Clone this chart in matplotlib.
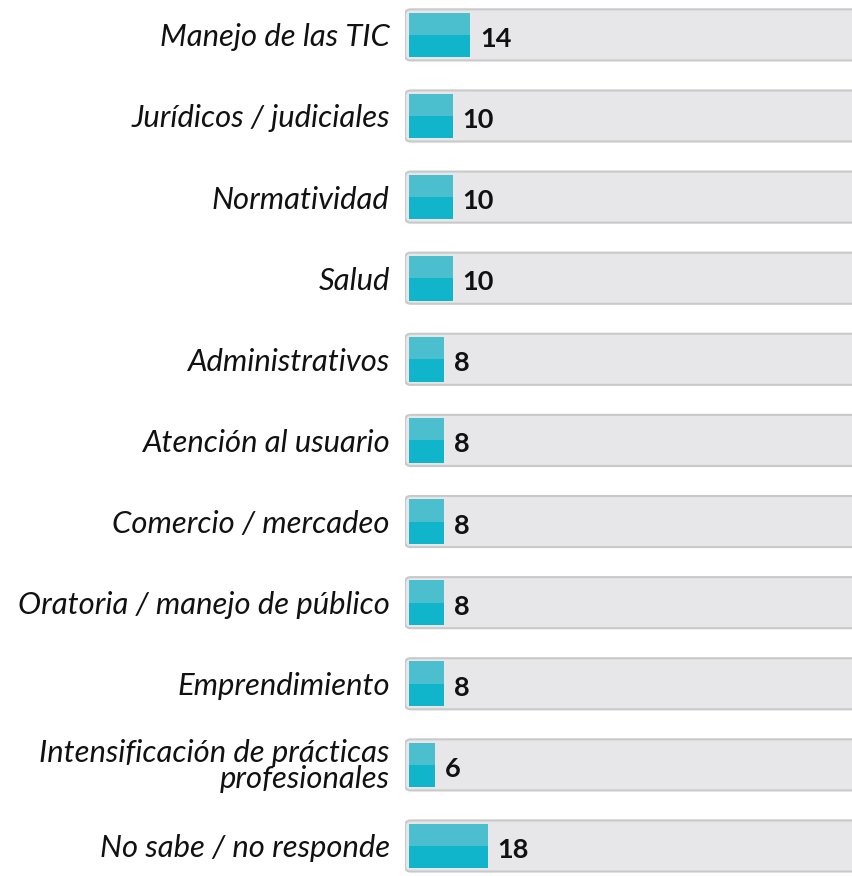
import numpy as np
import matplotlib.pyplot as plt
from matplotlib.patches import FancyBboxPatch

categorias = ['Manejo de las TIC', 'Jurídicos / judiciales', 'Normatividad', 'Salud',
              'Administrativos', 'Atención al usuario', 'Comercio / mercadeo',
              'Oratoria / manejo de público', 'Emprendimiento',
              'Intensificación de prácticas\nprofesionales', 'No sabe / no responde']
valores = [14, 10, 10, 10, 8, 8, 8, 8, 8, 6, 18]
total = 100

plt.rcParams['font.family'] = ['Lato', 'DejaVu Sans']

fig = plt.figure(figsize=(8.52, 8.76), dpi=100)
ax = fig.add_axes([405 / 852, 0, 447 / 852, 1])

y = np.arange(len(categorias))
h = 0.63
px_x = 4.35   # pixeles por unidad en x
px_y = 81.1   # pixeles por unidad en y

# fondo gris redondeado
for yi in y:
    fondo = FancyBboxPatch((-1, yi - h / 2), total + 10, h,
                           boxstyle='round,pad=0,rounding_size=1.3',
                           mutation_aspect=px_x / px_y,
                           facecolor='#e7e6e8', edgecolor='#c9c9c9', linewidth=1.5)
    ax.add_patch(fondo)

# barra en dos tonos
ax.barh(y - h / 4 + 0.02, valores, height=h / 2 - 0.04, color='#4bbfce', linewidth=0)
ax.barh(y + h / 4 - 0.02, valores, height=h / 2 - 0.04, color='#10b5cc', linewidth=0)

for yi, v in zip(y, valores):
    ax.text(v + 2.2, yi + 0.05, str(v), va='center', ha='left',
            fontsize=19.5, fontweight='bold', color='#111111')

ax.set_xlim(-1, 447 / px_x - 1)
ax.set_ylim(10.37, -0.43)
ax.set_yticks(y)
ax.set_yticklabels(categorias, fontsize=22.3, style='italic', color='#111111',
                   ha='right', linespacing=0.9)
ax.tick_params(axis='y', length=0, pad=11)
ax.set_xticks([])
for s in ax.spines.values():
    s.set_visible(False)

fig.savefig('out.png', dpi=100)
